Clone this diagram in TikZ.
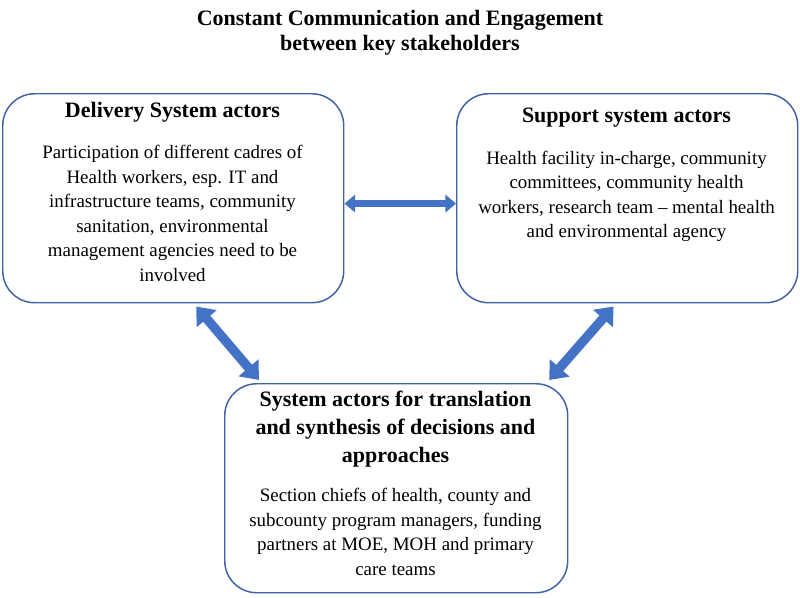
\documentclass[tikz,border=0pt]{standalone}
\usepackage{fontspec}
\setmainfont{LiberationSerif}[Extension=.ttf,UprightFont=*-Regular,BoldFont=*-Bold,ItalicFont=*-Italic,BoldItalicFont=*-BoldItalic]
\usetikzlibrary{arrows.meta,positioning}
\definecolor{boxline}{HTML}{3F62A6}
\definecolor{arrowblue}{HTML}{4472C4}
\begin{document}
\begin{tikzpicture}[x=0.75pt,y=-0.75pt,
    actorbox/.style={draw=boxline,line width=1.1pt,rounded corners=24pt,anchor=north west,inner sep=0pt},
    headtext/.style={font=\fontsize{16.5}{21}\selectfont\bfseries,align=center},
    bodytext/.style={font=\fontsize{14.2}{18.4}\selectfont,align=center},
    link/.style={arrowblue,line width=7pt,shorten <=3pt,shorten >=3pt,
      {Triangle[width=19pt,length=12pt]}-{Triangle[width=19pt,length=12pt]}}]
  \useasboundingbox (0,0) rectangle (800,597);

  % titolo
  \node[headtext,font=\fontsize{16.5}{19}\selectfont\bfseries] (title) at (400,32.5)
    {Constant Communication and Engagement\\between key stakeholders};

  % i tre riquadri
  \node[actorbox,minimum width=341*0.75pt,minimum height=209*0.75pt] (delivery) at (2,93) {};
  \node[actorbox,minimum width=341*0.75pt,minimum height=209*0.75pt] (support) at (456,93) {};
  \node[actorbox,minimum width=343*0.75pt,minimum height=209*0.75pt] (synthesis) at (224,383) {};

  % testi dei riquadri
  \node[headtext] (deliveryhead) at (172.5,112) {Delivery System actors};
  \node[bodytext] (deliverybody) at (172.5,213.5)
    {Participation of different cadres of\\Health workers, esp. IT and\\infrastructure teams, community\\sanitation, environmental\\management agencies need to be\\involved};

  \node[headtext] (supporthead) at (626.5,118) {Support system actors};
  \node[bodytext] (supportbody) at (626.5,196.5)
    {Health facility in-charge, community\\committees, community health\\workers, research team -- mental health\\and environmental agency};

  \node[headtext] (synthesishead) at (395.5,429.5)
    {System actors for translation\\and synthesis of decisions and\\approaches};
  \node[bodytext] (synthesisbody) at (395.5,532)
    {Section chiefs of health, county and\\subcounty program managers, funding\\partners at MOE, MOH and primary\\care teams};

  % frecce doppie
  \draw[link,line width=5.5pt,{Triangle[width=13pt,length=8pt]}-{Triangle[width=13pt,length=8pt]},shorten <=0pt,shorten >=0pt]
    ([yshift=-4pt]delivery.east) -- ([yshift=-4pt]support.west);
  \draw[link] (delivery.-79) -- (synthesis.142.6);
  \draw[link] (support.-96.3) -- (synthesis.35.6);
\end{tikzpicture}
\end{document}
